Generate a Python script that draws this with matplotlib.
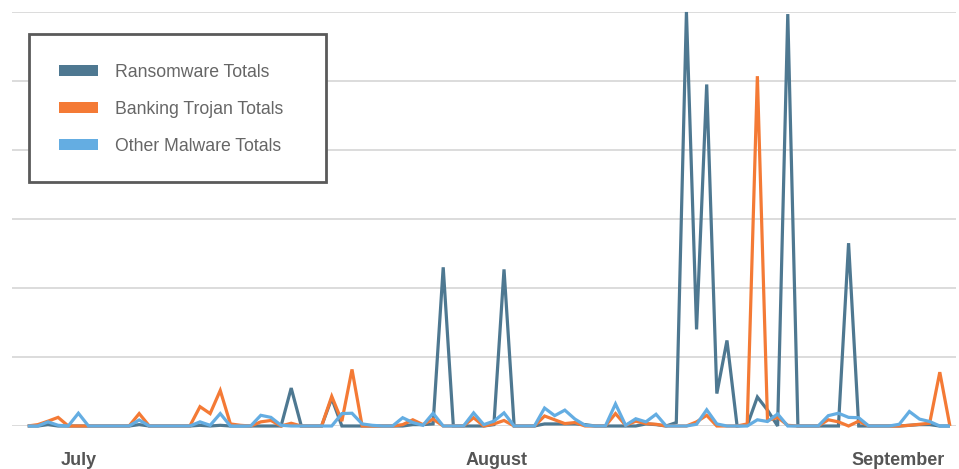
import matplotlib
matplotlib.use("Agg")
import matplotlib.pyplot as plt
from matplotlib.patches import Patch, Rectangle
import numpy as np

# ---- data (units = 1/10 of a gridline step) ----
ransomware = [0, 0, 0.2, 0, 0, 0, 0, 0, 0, 0,
              0, 0.2, 0, 0, 0, 0, 0, 0.1, 0, 0.1,
              0, 0, 0, 0, 0, 0, 5.5, 0, 0, 0,
              4.0, 0, 0, 0, 0, 0, 0, 0, 0.2, 0.2,
              0.3, 23.0, 0, 0, 0, 0, 0.2, 22.7, 0, 0,
              0, 0.3, 0.3, 0.3, 0.3, 0.2, 0, 0, 0, 0,
              0, 0.3, 0.2, 0, 0.5, 60.0, 14.0, 49.5, 4.7, 12.4,
              0, 0.1, 4.2, 2.3, 0, 59.7, 0, 0, 0, 0,
              0, 26.5, 0, 0, 0, 0, 0, 0.1, 0.2, 0.2,
              0, 0]
banking = [0, 0.2, 0.7, 1.25, 0, 0, 0, 0, 0, 0,
           0, 1.8, 0, 0, 0, 0, 0, 2.8, 1.8, 5.15,
           0.3, 0.1, 0, 0.6, 0.8, 0, 0.4, 0, 0, 0,
           4.3, 0.7, 8.2, 0, 0, 0, 0, 0.2, 0.9, 0.2,
           1.0, 0, 0, 0, 1.2, 0, 0.3, 0.8, 0, 0,
           0, 1.45, 0.9, 0.35, 0.5, 0, 0, 0, 1.8, 0.1,
           0.7, 0.35, 0.25, 0, 0, 0, 0.6, 1.55, 0, 0,
           0, 0.3, 50.7, 0.8, 1.25, 0.1, 0, 0, 0, 0.9,
           0.6, 0, 0.7, 0, 0, 0, 0, 0.1, 0.25, 0.4,
           7.8, 0]
other = [0, 0, 0.6, 0.1, 0, 1.85, 0, 0, 0, 0,
         0, 0.87, 0, 0, 0, 0, 0, 0.6, 0.1, 1.8,
         0, 0, 0, 1.55, 1.25, 0.1, 0, 0, 0, 0,
         0, 1.8, 1.85, 0.3, 0.1, 0, 0, 1.2, 0.5, 0.1,
         1.85, 0, 0, 0, 1.9, 0.2, 0.7, 1.9, 0, 0,
         0, 2.6, 1.5, 2.3, 1.0, 0.1, 0, 0, 3.2, 0.1,
         1.05, 0.6, 1.7, 0, 0, 0, 0.25, 2.35, 0.3, 0,
         0, 0, 0.9, 0.65, 1.75, 0, 0, 0, 0, 1.5,
         1.85, 1.25, 1.2, 0, 0, 0, 0.25, 2.1, 1.0, 0.65,
         0, 0]

series_names = ["Ransomware Totals", "Banking Trojan Totals", "Other Malware Totals"]
month_labels = ["July", "August", "September"]
month_index = [5, 46.3, 85.9]   # where each month label sits along the series

colors = ["#4E7891", "#F47A35", "#64ADE2"]

W, H = 959, 469
fig = plt.figure(figsize=(W / 100, H / 100), dpi=100)
ax = fig.add_axes([12 / W, (H - 426) / H, (956 - 12) / W, (426 - 12) / H])

x = np.arange(len(ransomware))
for vals, c, z in zip([ransomware, banking, other], colors, [2, 3, 4]):
    ax.plot(x, vals, color=c, lw=2.3, zorder=z, clip_on=False,
            solid_joinstyle="miter", solid_capstyle="butt")

ax.set_xlim(-1.55, 91.6)
ax.set_ylim(0, 60)
ax.set_yticks(np.arange(0, 61, 10))
ax.set_yticklabels([])
ax.yaxis.grid(True, color="#d2d2d2", lw=1.1, zorder=0)
ax.set_axisbelow(True)
ax.tick_params(axis="y", length=0)
for s in ax.spines.values():
    s.set_visible(False)

ax.set_xticks(month_index)
ax.set_xticklabels(month_labels, fontsize=13, fontweight="bold",
                   color="#555555", family="Liberation Sans")
ax.tick_params(axis="x", length=0, pad=18.5)

# legend frame drawn as a plain rectangle
box = Rectangle((29 / W, 1 - 182 / H), (326 - 29) / W, (182 - 34) / H,
                transform=fig.transFigure, facecolor="white",
                edgecolor="#5a5a5a", lw=2, zorder=10)
fig.add_artist(box)

handles = [Patch(facecolor=c, edgecolor="none") for c in colors]
leg = fig.legend(handles, series_names, loc="upper left",
                 bbox_to_anchor=(29 / W, 1 - 34 / H), borderaxespad=0,
                 frameon=False,
                 prop={"family": "Liberation Sans", "size": 12.7},
                 handlelength=2.2, handleheight=0.6, handletextpad=1.0,
                 labelspacing=1.13, borderpad=1.7)
leg.set_zorder(11)
for t in leg.get_texts():
    t.set_color("#666666")

fig.savefig("out.png", dpi=100)
